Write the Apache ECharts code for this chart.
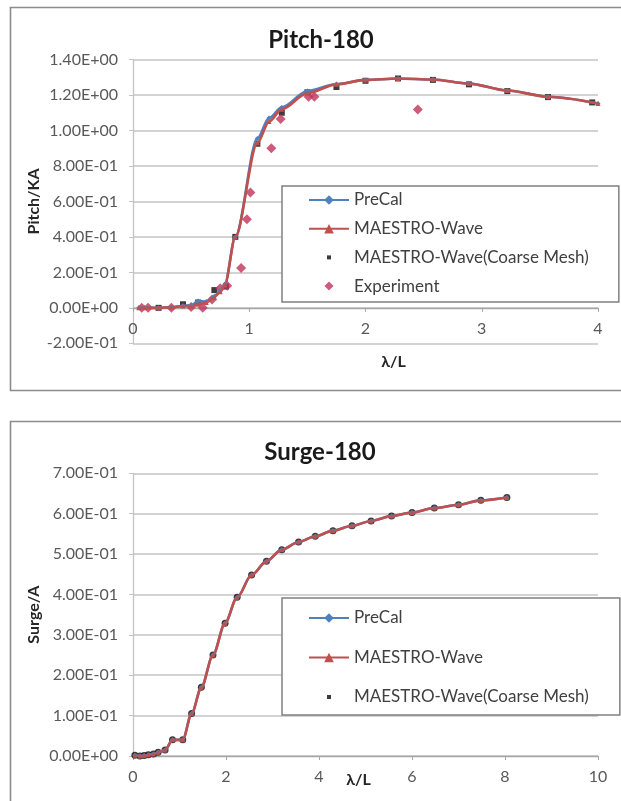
<!DOCTYPE html>
<html>
<head>
<meta charset="utf-8">
<script src="https://cdn.jsdelivr.net/npm/echarts@6/dist/echarts.min.js"></script>
<style>
  html, body { margin: 0; padding: 0; background: #fff; }
  #chart { width: 621px; height: 801px; }
</style>
</head>
<body>
<div id="chart"></div>
<script>
// ---- Pitch-180 (λ/L vs Pitch/KA) ----
const pitchX       = [0.05, 0.10, 0.22, 0.33, 0.43, 0.50, 0.56, 0.63, 0.70, 0.75, 0.79, 0.88, 1.07, 1.17, 1.28, 1.50, 1.75, 2.00, 2.28, 2.58, 2.89, 3.22, 3.57, 4.00];
const pitchPreCal  = [0, 0, 0, 0.004, 0.012, 0.015, 0.038, 0.035, 0.065, 0.095, 0.135, 0.40, 0.955, 1.07, 1.13, 1.222, 1.262, 1.285, 1.293, 1.287, 1.264, 1.225, 1.19, 1.152];
const pitchMaestro = [0, 0, 0, 0.003, 0.010, 0.010, 0.020, 0.030, 0.060, 0.090, 0.130, 0.40, 0.930, 1.05, 1.12, 1.210, 1.260, 1.285, 1.293, 1.287, 1.264, 1.225, 1.19, 1.152];
const pitchCoarseX = [0.22, 0.43, 0.56, 0.70, 0.80, 0.88, 1.07, 1.28, 1.50, 1.75, 2.00, 2.28, 2.58, 2.89, 3.22, 3.57, 3.95];
const pitchCoarse  = [0, 0.02, 0.03, 0.10, 0.12, 0.40, 0.925, 1.10, 1.215, 1.245, 1.28, 1.293, 1.285, 1.26, 1.222, 1.188, 1.158];
const pitchExpX    = [0.075, 0.13, 0.33, 0.50, 0.60, 0.68, 0.75, 0.81, 0.93, 0.98, 1.01, 1.19, 1.27, 1.51, 1.56, 2.45];
const pitchExp     = [0, 0, 0, 0.005, 0, 0.047, 0.11, 0.125, 0.225, 0.50, 0.65, 0.90, 1.065, 1.19, 1.19, 1.118];

// ---- Surge-180 (λ/L vs Surge/A) ----
const surgeX       = [0.04, 0.15, 0.24, 0.33, 0.44, 0.54, 0.69, 0.85, 1.07, 1.26, 1.47, 1.72, 1.98, 2.24, 2.55, 2.87, 3.20, 3.56, 3.92, 4.30, 4.71, 5.12, 5.56, 6.00, 6.48, 7.00, 7.48, 8.04];
const surgePreCal  = [0.002, 0.0, 0.001, 0.003, 0.005, 0.009, 0.015, 0.04, 0.04, 0.105, 0.17, 0.25, 0.329, 0.393, 0.448, 0.482, 0.511, 0.53, 0.544, 0.558, 0.57, 0.582, 0.594, 0.603, 0.614, 0.622, 0.633, 0.64];
const surgeMaestro = [0.002, 0.0, 0.001, 0.003, 0.005, 0.009, 0.015, 0.04, 0.04, 0.105, 0.17, 0.25, 0.329, 0.393, 0.448, 0.482, 0.511, 0.53, 0.544, 0.558, 0.57, 0.582, 0.594, 0.603, 0.614, 0.622, 0.633, 0.64];
const surgeCoarse  = [0.002, 0.0, 0.001, 0.003, 0.005, 0.009, 0.015, 0.04, 0.04, 0.105, 0.17, 0.25, 0.329, 0.393, 0.448, 0.482, 0.511, 0.53, 0.544, 0.558, 0.57, 0.582, 0.594, 0.603, 0.614, 0.622, 0.633, 0.64];

// ---- Axis ranges ----
const pitchYRange = [-0.2, 1.4, 0.2];
const surgeYRange = [0, 0.7, 0.1];
const pitchXRange = [0, 4, 1];
const surgeXRange = [0, 10, 2];

// ---- Labels ----
const titles      = ['Pitch-180', 'Surge-180'];
const yNames      = ['Pitch/KA', 'Surge/A'];
const xName       = 'λ/L';
const nPreCal     = 'PreCal';
const nMaestro    = 'MAESTRO-Wave';
const nCoarse     = 'MAESTRO-Wave(Coarse Mesh)';
const nExp        = 'Experiment';

const FONT = "Lato, 'DejaVu Sans', sans-serif";
const C_BLUE = '#4F81BD', C_RED = '#C0504D', C_EXP = '#C0325A', C_BLACK = '#0A0A0A';
const GRID_C = '#C4C4C4', LABEL_C = '#595959';

// plot areas
const G1 = { left: 133, top: 59.5, width: 465, height: 283.8 };
const G2 = { left: 133, top: 473.3, width: 465, height: 282.7 };

// small legend glyphs drawn inside the 40x12 legend cell
const ICON_SQUARE  = 'path://M0,0M40,12M18,4L22,4L22,8L18,8Z';
const ICON_DIAMOND = 'path://M0,0M40,12M20,1.5L24.5,6L20,10.5L15.5,6Z';

const pairs = (xs, ys) => xs.map((x, i) => [x, ys[i]]);

// Excel-style scientific tick labels, e.g. 1.40E+00, -2.00E-01
function sci(v) {
  const s = Number(v).toExponential(2);
  const [m, e] = s.split('e');
  let d = e.slice(1);
  if (d.length < 2) d = '0' + d;
  return m.toUpperCase() + 'E' + e[0] + d;
}

// shift of the horizontal axis so it crosses the vertical axis at zero
function zeroOffset(yRange, grid) {
  const [mn, mx] = yRange;
  return -((0 - mn) / (mx - mn)) * grid.height;
}

function xAxisCfg(gridIndex, range, offset, nameGap, namePad) {
  return {
    type: 'value', gridIndex, min: range[0], max: range[1], interval: range[2],
    offset,
    name: xName, nameLocation: 'middle', nameGap, nameMoveOverlap: false,
    nameTextStyle: { fontFamily: FONT, fontWeight: 'bold', fontSize: 16, color: '#262626', padding: namePad },
    axisLine: { show: true, onZero: false, lineStyle: { color: '#A6A6A6', width: 1.3 } },
    axisTick: { show: true, length: 4, lineStyle: { color: '#A6A6A6' } },
    axisLabel: { fontFamily: FONT, fontSize: 16, color: LABEL_C, margin: 13 },
    splitLine: { show: false }
  };
}

function yAxisCfg(gridIndex, range, name) {
  return {
    type: 'value', gridIndex, min: range[0], max: range[1], interval: range[2],
    name, nameLocation: 'middle', nameGap: 91, nameMoveOverlap: false,
    nameTextStyle: { fontFamily: FONT, fontWeight: 'bold', fontSize: 16, color: '#262626' },
    axisLine: { show: true, onZero: false, lineStyle: { color: GRID_C, width: 1.3 } },
    axisTick: { show: true, length: 4, lineStyle: { color: GRID_C } },
    axisLabel: { fontFamily: FONT, fontSize: 16, color: LABEL_C, margin: 15, formatter: sci },
    splitLine: { show: true, lineStyle: { color: GRID_C, width: 1.5 } }
  };
}

function lineSeries(name, data, color, xi, symbol) {
  return {
    type: 'line', name, data, xAxisIndex: xi, yAxisIndex: xi,
    smooth: 0.3, smoothMonotone: 'x',
    symbol, symbolSize: 5, showSymbol: true,
    itemStyle: { color },
    lineStyle: { color, width: 2.6 },
    emphasis: { disabled: true }
  };
}

function scatterSeries(name, data, color, xi, symbol, size) {
  return {
    type: 'scatter', name, data, xAxisIndex: xi, yAxisIndex: xi,
    symbol, symbolSize: size, itemStyle: { color },
    emphasis: { disabled: true }
  };
}

function legendCfg(top, data, rowGap, padding) {
  return {
    orient: 'vertical', left: 282, top, data,
    itemWidth: 40, itemHeight: 12, itemGap: rowGap, padding,
    borderColor: '#808080', borderWidth: 1.5, backgroundColor: '#fff',
    textStyle: { fontFamily: FONT, fontSize: 17, color: '#404040', lineHeight: 18 },
    selectedMode: false
  };
}

const pitchLegend = [
  { name: nPreCal },
  { name: nMaestro },
  { name: nCoarse, icon: ICON_SQUARE },
  { name: nExp, icon: ICON_DIAMOND }
];
const surgeLegend = [
  { name: nPreCal },
  { name: nMaestro },
  { name: nCoarse, icon: ICON_SQUARE }
];

const chart = echarts.init(document.getElementById('chart'), null, { renderer: 'canvas' });

chart.setOption({
  animation: false,
  backgroundColor: '#fff',
  graphic: [
    { type: 'rect', silent: true, z: -10, shape: { x: 10.5, y: 7.5, width: 640, height: 383 },
      style: { fill: null, stroke: '#8C8C8C', lineWidth: 1.6 } },
    { type: 'rect', silent: true, z: -10, shape: { x: 10.5, y: 421.5, width: 640, height: 420 },
      style: { fill: null, stroke: '#8C8C8C', lineWidth: 1.6 } }
  ],
  title: [
    { text: titles[0], left: 321, top: 28, textAlign: 'center', padding: 0,
      textStyle: { fontFamily: FONT, fontWeight: 'bold', fontSize: 24, color: '#1A1A1A' } },
    { text: titles[1], left: 320, top: 440, textAlign: 'center', padding: 0,
      textStyle: { fontFamily: FONT, fontWeight: 'bold', fontSize: 24, color: '#1A1A1A' } }
  ],
  legend: [
    legendCfg(186, pitchLegend, 10.7, [5, 30, 7, 26]),
    legendCfg(598, surgeLegend, 21.5, [11, 31, 9, 26])
  ],
  grid: [
    Object.assign({ outerBoundsMode: 'none' }, G1),
    Object.assign({ outerBoundsMode: 'none' }, G2)
  ],
  xAxis: [
    xAxisCfg(0, pitchXRange, zeroOffset(pitchYRange, G1), 46, [0, 0, 0, 56]),
    xAxisCfg(1, surgeXRange, zeroOffset(surgeYRange, G2), 16, [0, 14, 0, 0])
  ],
  yAxis: [
    yAxisCfg(0, pitchYRange, yNames[0]),
    yAxisCfg(1, surgeYRange, yNames[1])
  ],
  series: [
    lineSeries(nPreCal, pairs(pitchX, pitchPreCal), C_BLUE, 0, 'diamond'),
    lineSeries(nMaestro, pairs(pitchX, pitchMaestro), C_RED, 0, 'triangle'),
    scatterSeries(nCoarse, pairs(pitchCoarseX, pitchCoarse), C_BLACK, 0, 'rect', 6),
    scatterSeries(nExp, pairs(pitchExpX, pitchExp), C_EXP, 0, 'diamond', 10),

    lineSeries(nPreCal, pairs(surgeX, surgePreCal), C_BLUE, 1, 'diamond'),
    lineSeries(nMaestro, pairs(surgeX, surgeMaestro), C_RED, 1, 'triangle'),
    scatterSeries(nCoarse, pairs(surgeX, surgeCoarse), C_BLACK, 1, 'circle', 7)
  ]
});
</script>
</body>
</html>
